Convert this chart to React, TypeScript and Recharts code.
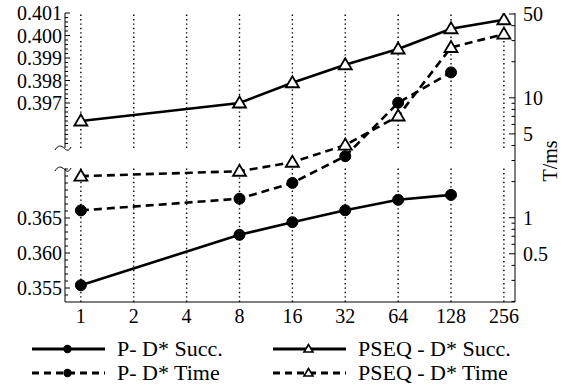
import React from 'react';
import { LineChart, Line, XAxis, YAxis, ReferenceLine } from 'recharts';

const FONT = "'Liberation Serif', 'DejaVu Serif', Tinos, serif";

// x categories (log2 spaced)
const xLabels = ['1', '2', '4', '8', '16', '32', '64', '128', '256'];

// success rates (left, broken axis)
const pdSucc = [0.3554, null, null, 0.3626, 0.3644, 0.3661, 0.3676, 0.3683, null];
const pseqSucc = [0.3962, null, null, 0.397, 0.3979, 0.3987, 0.3994, 0.4003, 0.4007];

// times in ms (right, log axis)
const pdTime = [1.15, null, null, 1.44, 1.95, 3.26, 9.1, 16.3, null];
const pseqTime = [2.22, null, null, 2.44, 2.9, 4.03, 7.05, 26.3, 34.0];

const lowTicks = [0.355, 0.36, 0.365];
const highTicks = [0.397, 0.398, 0.399, 0.4, 0.401];
const timeTicks = [0.5, 1, 5, 10, 50];
const timeMinor = [0.2, 0.3, 0.4, 0.6, 0.7, 0.8, 0.9, 2, 3, 4, 6, 7, 8, 9, 20, 30, 40];

const PLOT_LEFT = 65;
const PLOT_RIGHT = 515;
const TICK_FONT = 20;

const steps = (from: number, to: number, step: number) => {
  const out: number[] = [];
  for (let k = 0; from + k * step <= to + 1e-9; k++) out.push(+(from + k * step).toFixed(5));
  return out;
};
const lowAll = steps(0.354, 0.372, 0.001);
const highAll = steps(0.3952, 0.401, 0.0002);
const timeAll = [...timeMinor, ...timeTicks].sort((a, b) => a - b);

const isMajor = (v: number, majors: number[]) => majors.some((m) => Math.abs(m - v) < 1e-7);

const toPoints = (vals: (number | null)[]) =>
  vals.map((v, i) => (v == null ? null : { i, v })).filter(Boolean) as { i: number; v: number }[];

const LeftTick = (props: any) => {
  const { y, payload, majors } = props;
  const v = payload.value;
  const major = isMajor(v, majors);
  return (
    <g>
      <line x1={PLOT_LEFT} x2={PLOT_LEFT + (major ? 5 : 3)} y1={y} y2={y} stroke="#000" strokeWidth={1} />
      {major && (
        <text x={PLOT_LEFT - 3} y={y} dy="0.355em" textAnchor="end" fontSize={TICK_FONT} fontFamily={FONT} fill="#000">
          {v.toFixed(3)}
        </text>
      )}
    </g>
  );
};

const RightTick = (props: any) => {
  const { y, payload } = props;
  const v = payload.value;
  const major = isMajor(v, timeTicks);
  return (
    <g>
      <line x1={PLOT_RIGHT} x2={PLOT_RIGHT - (major ? 6 : 3.5)} y1={y} y2={y} stroke="#000" strokeWidth={1} />
      {major && (
        <text x={PLOT_RIGHT + 8} y={y} dy="0.355em" textAnchor="start" fontSize={TICK_FONT} fontFamily={FONT} fill="#000">
          {String(v)}
        </text>
      )}
    </g>
  );
};

const Triangle = ({ cx, cy }: { cx: number; cy: number }) => (
  <path
    d={`M${cx},${cy - 6.5} L${cx - 6.5},${cy + 4.5} L${cx + 6.5},${cy + 4.5} Z`}
    fill="#fff"
    stroke="#000"
    strokeWidth={1.8}
    strokeDasharray="none"
  />
);

const triDot = (p: any) => <Triangle key={`tri-${p.dataKey}-${p.index}`} cx={p.cx} cy={p.cy} />;
const circDot = { r: 5.5, fill: '#000', stroke: '#000', strokeWidth: 1, strokeDasharray: 'none' };

const legendItems = [
  { name: 'P- D* Succ.', dashed: false, tri: false },
  { name: 'PSEQ - D* Succ.', dashed: false, tri: true },
  { name: 'P- D* Time', dashed: true, tri: false },
  { name: 'PSEQ - D* Time', dashed: true, tri: true },
];

const LegendSample = ({ dashed, tri }: { dashed: boolean; tri: boolean }) => (
  <svg width={75} height={20} style={{ display: 'block' }}>
    <line x1={1} x2={74} y1={10} y2={10} stroke="#000" strokeWidth={3} strokeDasharray={dashed ? '7 5' : undefined} />
    {tri ? (
      <path d="M36.5,5.5 L32,13 L41,13 Z" fill="#fff" stroke="#000" strokeWidth={1.6} />
    ) : (
      <circle cx={36.5} cy={10} r={4.2} fill="#000" />
    )}
  </svg>
);

export default function App() {
  const gridSegments = xLabels.map((_, i) => i);
  return (
    <div style={{ position: 'absolute', left: 0, top: 0, width: 562, height: 388, background: '#fff', fontFamily: FONT }}>
      <LineChart width={562} height={388} margin={{ top: 13, right: 0, bottom: 56, left: 0 }}>
        <XAxis
          dataKey="i"
          type="number"
          domain={[-0.3, 8.21]}
          allowDataOverflow
          ticks={gridSegments}
          interval={0}
          tickFormatter={(i: number) => xLabels[i]}
          tickLine={false}
          tickMargin={1}
          height={30}
          axisLine={{ stroke: '#000', strokeWidth: 1 }}
          tick={{ fill: '#000', fontSize: TICK_FONT, fontFamily: FONT }}
        />
        <YAxis
          yAxisId="low"
          orientation="left"
          width={64}
          type="number"
          domain={[0.353, 0.394286]}
          allowDataOverflow
          ticks={lowAll}
          interval={0}
          axisLine={false}
          tickLine={false}
          tick={(p: any) => <LeftTick key={`lt-${p.index}`} {...p} majors={lowTicks} />}
        />
        <YAxis
          yAxisId="high"
          orientation="left"
          width={1}
          type="number"
          domain={[0.388156, 0.401]}
          allowDataOverflow
          ticks={highAll}
          interval={0}
          axisLine={false}
          tickLine={false}
          tick={(p: any) => <LeftTick key={`ht-${p.index}`} {...p} majors={highTicks} />}
        />
        <YAxis
          yAxisId="time"
          orientation="right"
          width={47}
          type="number"
          scale="log"
          domain={[0.198, 51]}
          allowDataOverflow
          ticks={timeAll}
          interval={0}
          axisLine={{ stroke: '#000', strokeWidth: 1 }}
          tickLine={false}
          tick={(p: any) => <RightTick key={`rt-${p.index}`} {...p} />}
        />

        {/* left axis, broken in two parts */}
        <ReferenceLine
          yAxisId="high"
          ifOverflow="visible"
          segment={[{ x: -0.3, y: 0.395 }, { x: -0.3, y: 0.401 }]}
          stroke="#000"
          strokeWidth={1}
        />
        <ReferenceLine
          yAxisId="low"
          ifOverflow="visible"
          segment={[{ x: -0.3, y: 0.353 }, { x: -0.3, y: 0.3721 }]}
          stroke="#000"
          strokeWidth={1}
        />

        {/* dotted vertical grid, broken too */}
        {gridSegments.map((i) => (
          <ReferenceLine
            key={`gh-${i}`}
            yAxisId="high"
            ifOverflow="visible"
            segment={[{ x: i, y: 0.395 }, { x: i, y: 0.401 }]}
            stroke="#000"
            strokeWidth={1.4}
            strokeDasharray="1.4 3"
          />
        ))}
        {gridSegments.map((i) => (
          <ReferenceLine
            key={`gl-${i}`}
            yAxisId="low"
            ifOverflow="visible"
            segment={[{ x: i, y: 0.353 }, { x: i, y: 0.3721 }]}
            stroke="#000"
            strokeWidth={1.4}
            strokeDasharray="1.4 3"
          />
        ))}

        <Line
          yAxisId="low"
          data={toPoints(pdSucc)}
          dataKey="v"
          name="P- D* Succ."
          stroke="#000"
          strokeWidth={2.6}
          dot={circDot}
          isAnimationActive={false}
        />
        <Line
          yAxisId="time"
          data={toPoints(pdTime)}
          dataKey="v"
          name="P- D* Time"
          stroke="#000"
          strokeWidth={2.6}
          strokeDasharray="8 5"
          dot={circDot}
          isAnimationActive={false}
        />
        <Line
          yAxisId="time"
          data={toPoints(pseqTime)}
          dataKey="v"
          name="PSEQ - D* Time"
          stroke="#000"
          strokeWidth={2.6}
          strokeDasharray="8 5"
          dot={triDot}
          isAnimationActive={false}
        />
        <Line
          yAxisId="high"
          data={toPoints(pseqSucc)}
          dataKey="v"
          name="PSEQ - D* Succ."
          stroke="#000"
          strokeWidth={2.6}
          dot={triDot}
          isAnimationActive={false}
        />
      </LineChart>

      {/* axis break marks and right axis title */}
      <svg width={562} height={388} style={{ position: 'absolute', left: 0, top: 0, pointerEvents: 'none' }}>
        <path d="M55,150 C58,145 61,145 64.5,148.5 C67,151 69,151 71,147" fill="none" stroke="#000" strokeWidth={1} />
        <path d="M55,171 C58,166 61,166 64.5,169.5 C67,172 69,172 71,168" fill="none" stroke="#000" strokeWidth={1} />
        <text x={550} y={161} transform="rotate(-90 550 161)" textAnchor="middle" dominantBaseline="central" fontSize={TICK_FONT} fontFamily={FONT} fill="#000">
          T/ms
        </text>
      </svg>

      {legendItems.map((item, k) => {
        const row = Math.floor(k / 2);
        const col = k % 2;
        return (
          <div
            key={item.name}
            style={{
              position: 'absolute',
              left: col === 0 ? 31 : 272,
              top: row === 0 ? 337 : 361,
              height: 24,
              display: 'flex',
              alignItems: 'center',
            }}
          >
            <LegendSample dashed={item.dashed} tri={item.tri} />
            <span style={{ marginLeft: 11, fontSize: 22, lineHeight: '24px', color: '#000', whiteSpace: 'nowrap' }}>{item.name}</span>
          </div>
        );
      })}
    </div>
  );
}
